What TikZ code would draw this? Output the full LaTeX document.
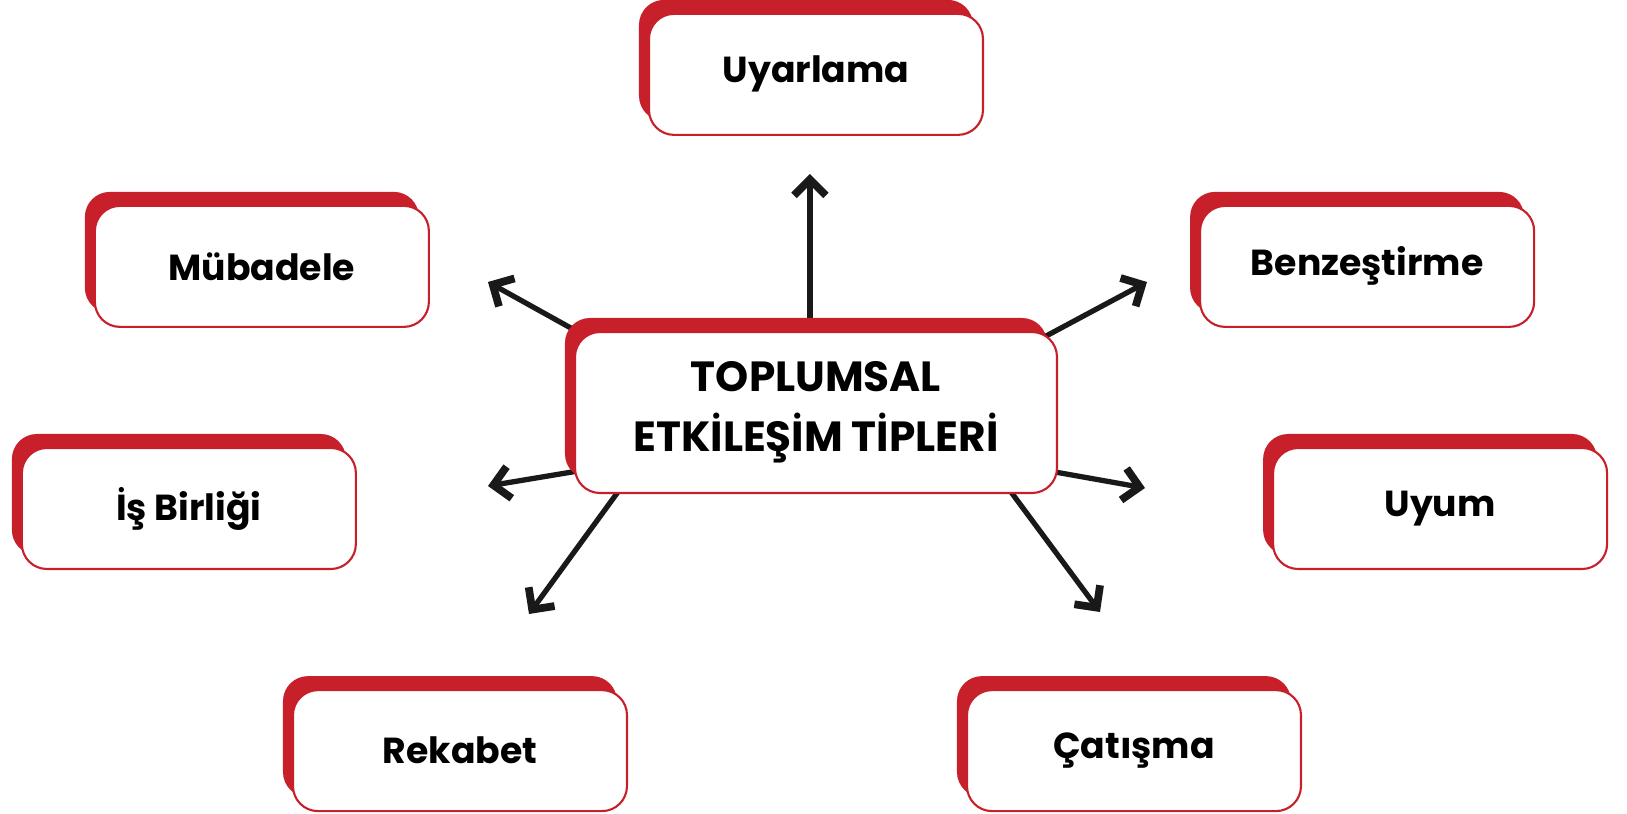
\documentclass[tikz,border=0pt]{standalone}
\usepackage{fontspec}
\setmainfont{Poppins}
\usepackage{tikz}
\usetikzlibrary{positioning,calc,shadows,arrows.meta}
\definecolor{myred}{RGB}{200,32,42}
\pgfdeclarelayer{background}
\pgfsetlayers{background,main}

\begin{document}
\begin{tikzpicture}[node distance=1.95cm,inner sep=0pt]
\tikzstyle{box}=[rectangle, rounded corners=0.25cm, draw=myred, line width=0.6pt, fill=white, minimum width=3.34cm, minimum height=1.21cm, font=\bfseries\fontsize{10.3}{13}\selectfont, general shadow={fill=myred, shadow xshift=-0.1cm, shadow yshift=0.14cm}]
\tikzstyle{connect}=[-{Straight Barb[length=1.6mm,width=3.2mm,line width=2.2pt]}, line width=1.5pt, black!90]
\useasboundingbox (-8.16,-4.015) rectangle (8.11,4.125);
\node[box,minimum width=4.82cm,minimum height=1.61cm,align=center,font=\bfseries\fontsize{12}{17}\selectfont] (ctr) at (0,0) {TOPLUMSAL\\ETKİLEŞİM TİPLERİ};
\node[box] (uya) [above=of ctr] {Uyarlama};
\node[box] (mub) [above left=0.03cm and 1.44cm of ctr] {Mübadele};
\node[box] (ben) [above right=0.03cm and 1.41cm of ctr] {Benzeştirme};
\node[box] (isb) [below=1.19cm of mub, xshift=-0.73cm] {İş Birliği};
\node[box] (uyu) [below=1.19cm of ben, xshift=0.73cm] {Uyum};
\node[box] (rek) [below=of ctr, xshift=-3.56cm] {Rekabet};
\node[box] (cat) [below=of ctr, xshift=3.18cm] {Çatışma};
% arrow tips
\coordinate (tU) at ($(ctr)+(-0.06,2.385)$);
\coordinate (tUL) at ($(ctr)+(-3.28,1.305)$);
\coordinate (tUR) at ($(ctr)+(3.31,1.305)$);
\coordinate (tL) at ($(ctr)+(-3.28,-0.735)$);
\coordinate (tR) at ($(ctr)+(3.29,-0.755)$);
\coordinate (tDL) at ($(ctr)+(-2.87,-2.015)$);
\coordinate (tDR) at ($(ctr)+(2.84,-1.995)$);
\begin{pgfonlayer}{background}
\draw[connect] ($(ctr)+(-0.06,0.325)$) -- (tU);
\draw[connect] ($(ctr)+(-1.66,0.405)$) -- (tUL);
\draw[connect] ($(ctr)+(1.33,0.245)$) -- (tUR);
\draw[connect] ($(ctr)+(-1.60,-0.455)$) -- (tL);
\draw[connect] ($(ctr)+(1.49,-0.435)$) -- (tR);
\draw[connect] ($(ctr)+(-1.58,-0.245)$) -- (tDL);
\draw[connect] ($(ctr)+(1.55,-0.255)$) -- (tDR);
\end{pgfonlayer}
\end{tikzpicture}
\end{document}
